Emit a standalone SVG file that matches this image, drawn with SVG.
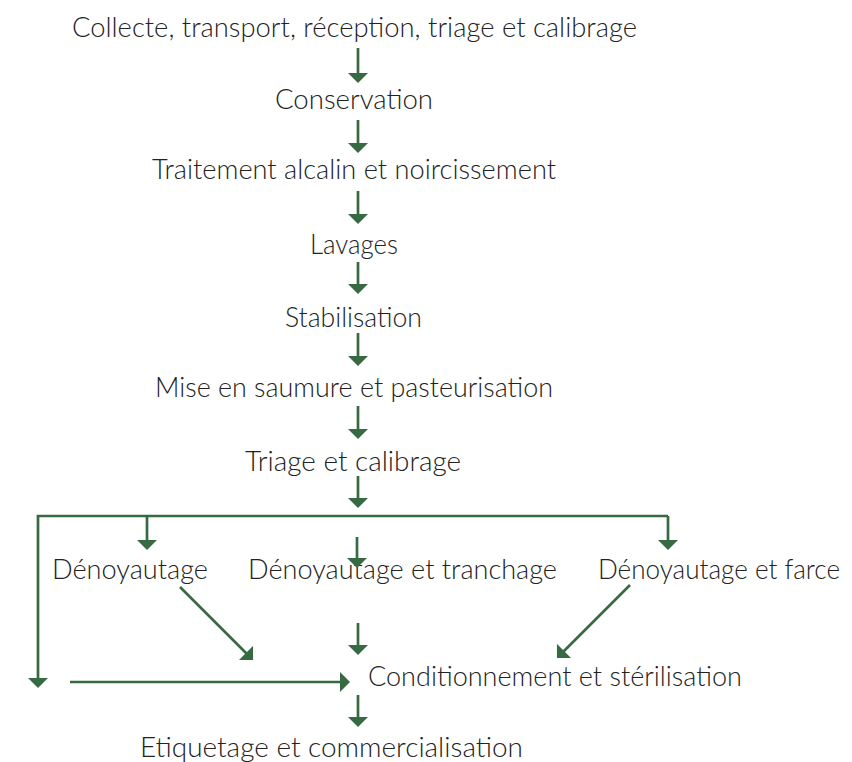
<svg xmlns="http://www.w3.org/2000/svg" width="852" height="762" viewBox="0 0 852 762">
<style>
text{font-family:Lato,"Open Sans","Liberation Sans",sans-serif;font-weight:300;font-size:27.5px;fill:#222;text-anchor:middle}
.c line,.c polyline{stroke:#376a42;stroke-width:2.7;fill:none}
.a{marker-end:url(#ah)}
</style>
<defs>
<marker id="ah" markerUnits="userSpaceOnUse" markerWidth="10" markerHeight="20" viewBox="0 0 10 20" refX="5" refY="10" orient="auto">
<path d="M0,0 L10,10 L0,20 Z" fill="#376a42"/>
</marker>
</defs>
<rect width="852" height="762" fill="#fff"/>
<g id="n1"><text x="354.5" y="37" textLength="565" lengthAdjust="spacingAndGlyphs">Collecte, transport, réception, triage et calibrage</text></g>
<g id="n2"><text x="354" y="109" textLength="158" lengthAdjust="spacingAndGlyphs">Conservation</text></g>
<g id="n3"><text x="354" y="179" textLength="404" lengthAdjust="spacingAndGlyphs">Traitement alcalin et noircissement</text></g>
<g id="n4"><text x="354" y="254" textLength="88" lengthAdjust="spacingAndGlyphs">Lavages</text></g>
<g id="n5"><text x="353.5" y="327" textLength="137" lengthAdjust="spacingAndGlyphs">Stabilisation</text></g>
<g id="n6"><text x="354" y="397" textLength="398" lengthAdjust="spacingAndGlyphs">Mise en saumure et pasteurisation</text></g>
<g id="n7"><text x="353" y="471" textLength="216" lengthAdjust="spacingAndGlyphs">Triage et calibrage</text></g>
<g id="n8"><text x="130" y="579" textLength="156" lengthAdjust="spacingAndGlyphs">Dénoyautage</text></g>
<g id="n9"><text x="402.5" y="579" textLength="309" lengthAdjust="spacingAndGlyphs">Dénoyautage et tranchage</text></g>
<g id="n10"><text x="719" y="579" font-size="26.5" textLength="242" lengthAdjust="spacingAndGlyphs">Dénoyautage et farce</text></g>
<g id="n11"><text x="555" y="686" textLength="374" lengthAdjust="spacingAndGlyphs">Conditionnement et stérilisation</text></g>
<g id="n12"><text x="331.5" y="757" textLength="383" lengthAdjust="spacingAndGlyphs">Etiquetage et commercialisation</text></g>
<g id="connectors" class="c">
<line class="a" x1="358" y1="48" x2="358" y2="78"/>
<line class="a" x1="358" y1="120" x2="358" y2="148"/>
<line class="a" x1="358" y1="191" x2="358" y2="219"/>
<line class="a" x1="358" y1="262" x2="358" y2="289"/>
<line class="a" x1="358" y1="333" x2="358" y2="361"/>
<line class="a" x1="358" y1="406" x2="358" y2="434"/>
<line class="a" x1="358" y1="476" x2="358" y2="503"/>
<polyline class="a" points="668,516 38,516 38,683"/>
<line class="a" x1="668" y1="516" x2="668" y2="545"/>
<line class="a" x1="147" y1="516" x2="147" y2="545"/>
<line class="a" x1="357" y1="537" x2="357" y2="563"/>
<line class="a" x1="180" y1="587" x2="249.5" y2="656.5"/>
<line class="a" x1="630" y1="585" x2="560.5" y2="654.5"/>
<line class="a" x1="358" y1="623" x2="358" y2="650"/>
<line class="a" x1="70" y1="682" x2="345" y2="682"/>
<line class="a" x1="358" y1="695" x2="358" y2="722"/>
</g>
</svg>
